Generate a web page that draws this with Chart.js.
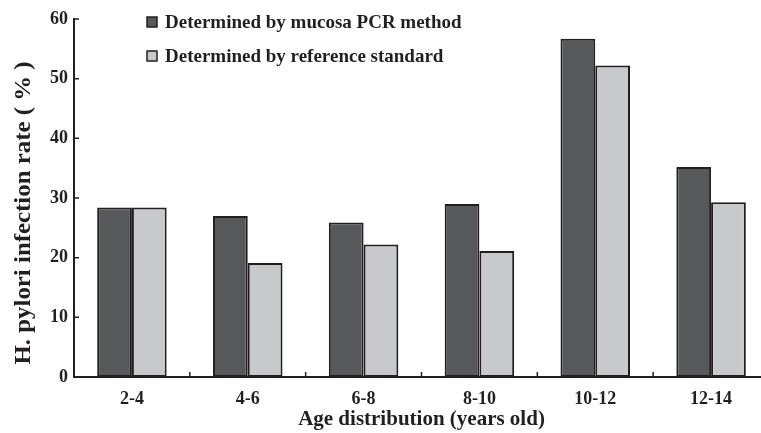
<!DOCTYPE html>
<html>
<head>
<meta charset="utf-8">
<script src="https://cdn.jsdelivr.net/npm/chart.js@4/dist/chart.umd.min.js"></script>
<style>
  html, body { margin: 0; padding: 0; background: #fff; width: 761px; height: 433px; overflow: hidden; }
  #wrap { width: 800px; height: 433px; }
</style>
</head>
<body>
<div id="wrap"><canvas id="rateChart" width="800" height="433"></canvas></div>
<script>
// age groups on the x axis
const ageGroups = ['2-4', '4-6', '6-8', '8-10', '10-12', '12-14'];
// infection rate (%)
const pcrRates = [28.4, 27.0, 25.9, 29.0, 56.7, 35.2];
const referenceRates = [28.4, 19.1, 22.2, 21.1, 52.2, 29.3];
const yTicks = [0, 10, 20, 30, 40, 50, 60];
const yTitle = 'H. pylori infection rate ( % )';

const serif = '"Liberation Serif", "Times New Roman", serif';
const ink = '#231f20';

// legend drawn inside the plot, top left, like the original figure
const innerLegend = {
    id: 'innerLegend',
    afterDraw(chart) {
        const ctx = chart.ctx;
        ctx.save();
        ctx.font = 'bold 19px ' + serif;
        ctx.textBaseline = 'middle';
        chart.data.datasets.forEach((ds, i) => {
            const y = 22 + i * 34;
            ctx.fillStyle = ds.backgroundColor;
            ctx.fillRect(147, y - 5, 10, 10);
            ctx.strokeStyle = ink;
            ctx.lineWidth = 1.5;
            ctx.strokeRect(147, y - 5, 10, 10);
            ctx.fillStyle = ink;
            ctx.fillText(ds.label, 165, y + 1);
        });
        ctx.restore();
    }
};

// y axis title, a bit stretched and sitting lower than centre as in the figure
const yAxisTitle = {
    id: 'yAxisTitle',
    afterDraw(chart) {
        const ctx = chart.ctx;
        ctx.save();
        ctx.font = 'bold 23px ' + serif;
        ctx.fillStyle = ink;
        ctx.textAlign = 'center';
        ctx.textBaseline = 'middle';
        const w = ctx.measureText(yTitle).width;
        ctx.translate(24, 213);
        ctx.rotate(-Math.PI / 2);
        ctx.scale(303 / w, 1);
        ctx.fillText(yTitle, 0, 0);
        ctx.restore();
    }
};

// small tick marks pointing into the plot
const innerTicks = {
    id: 'innerTicks',
    afterDraw(chart) {
        const ctx = chart.ctx;
        const area = chart.chartArea;
        const x = chart.scales.x;
        const y = chart.scales.y;
        ctx.save();
        ctx.strokeStyle = ink;
        ctx.lineWidth = 1.5;
        ctx.beginPath();
        yTicks.forEach(v => {
            const py = y.getPixelForValue(v);
            ctx.moveTo(area.left, py);
            ctx.lineTo(area.left + 5, py);
        });
        for (let i = 1; i < ageGroups.length; i++) {
            const px = (x.getPixelForValue(i - 1) + x.getPixelForValue(i)) / 2;
            ctx.moveTo(px, area.bottom);
            ctx.lineTo(px, area.bottom - 5);
        }
        ctx.stroke();
        ctx.restore();
    }
};

new Chart(document.getElementById('rateChart'), {
    type: 'bar',
    data: {
        labels: ageGroups,
        datasets: [
            {
                label: 'Determined by mucosa PCR method',
                data: pcrRates,
                backgroundColor: '#56585a',
                borderColor: ink,
                borderWidth: 2,
                borderSkipped: false,
                categoryPercentage: 0.6,
                barPercentage: 1.0
            },
            {
                label: 'Determined by reference standard',
                data: referenceRates,
                backgroundColor: '#c8c9cb',
                borderColor: ink,
                borderWidth: 2,
                borderSkipped: false,
                categoryPercentage: 0.6,
                barPercentage: 1.0
            }
        ]
    },
    options: {
        responsive: false,
        animation: false,
        devicePixelRatio: 1,
        layout: { padding: { top: 19, right: 31, left: 0, bottom: 0 } },
        plugins: {
            legend: { display: false },
            tooltip: { enabled: false }
        },
        scales: {
            x: {
                grid: { display: false, drawTicks: false },
                border: { display: true, color: ink, width: 2 },
                ticks: { color: ink, padding: 12, font: { family: serif, size: 18, weight: 'bold' } },
                title: {
                    display: true,
                    text: 'Age distribution (years old)',
                    color: ink,
                    padding: { top: 2, bottom: 1 },
                    font: { family: serif, size: 21, weight: 'bold' }
                },
                afterFit: s => { s.height = 56; }
            },
            y: {
                min: 0,
                max: 60,
                afterBuildTicks: s => { s.ticks = yTicks.map(v => ({ value: v })); },
                grid: { display: false, drawTicks: false },
                border: { display: true, color: ink, width: 2 },
                ticks: { color: ink, padding: 6, font: { family: serif, size: 18, weight: 'bold' } },
                afterFit: s => { s.width = 74; }
            }
        }
    },
    plugins: [innerLegend, yAxisTitle, innerTicks]
});
</script>
</body>
</html>
